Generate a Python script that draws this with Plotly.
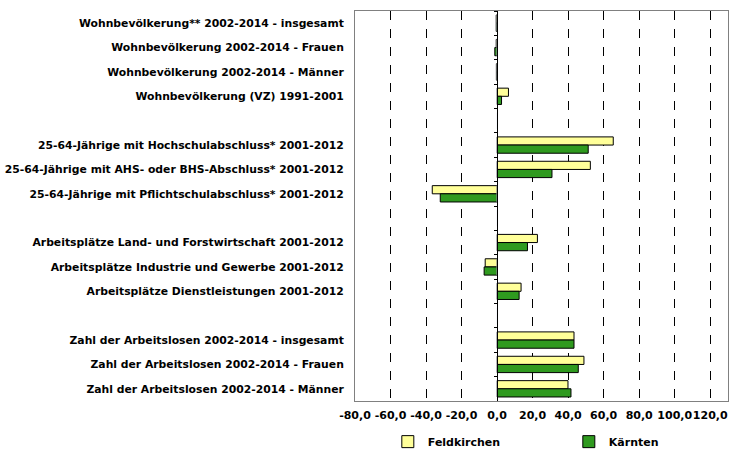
import plotly.graph_objects as go

categories = [
    "Wohnbevölkerung** 2002-2014 - insgesamt",
    "Wohnbevölkerung 2002-2014 - Frauen",
    "Wohnbevölkerung 2002-2014 - Männer",
    "Wohnbevölkerung (VZ) 1991-2001",
    " ",
    "25-64-Jährige mit Hochschulabschluss* 2001-2012",
    "25-64-Jährige mit AHS- oder BHS-Abschluss* 2001-2012",
    "25-64-Jährige mit Pflichtschulabschluss* 2001-2012",
    "  ",
    "Arbeitsplätze Land- und Forstwirtschaft 2001-2012",
    "Arbeitsplätze Industrie und Gewerbe 2001-2012",
    "Arbeitsplätze Dienstleistungen 2001-2012",
    "   ",
    "Zahl der Arbeitslosen 2002-2014 - insgesamt",
    "Zahl der Arbeitslosen 2002-2014 - Frauen",
    "Zahl der Arbeitslosen 2002-2014 - Männer",
]

feldkirchen = [-0.5, -0.5, -0.4, 6.4, None, 65.4, 52.5, -36.5, None,
               22.7, -6.7, 13.5, None, 43.3, 48.9, 39.9]
kaernten = [-0.5, -1.3, -0.4, 2.5, None, 51.3, 30.9, -32.0, None,
            17.1, -7.3, 12.4, None, 43.3, 45.7, 41.6]

x_ticks = [-80, -60, -40, -20, 0, 20, 40, 60, 80, 100, 120]
x_ticklabels = ["-80,0", "-60,0", "-40,0", "-20,0", "0,0", "20,0", "40,0",
                "60,0", "80,0", "100,0", "120,0"]

FONT = "DejaVu Sans"

fig = go.Figure()
fig.add_trace(go.Bar(
    y=categories, x=feldkirchen, name="Feldkirchen", orientation="h",
    marker=dict(color="#FFFF99", line=dict(color="black", width=1)),
))
fig.add_trace(go.Bar(
    y=categories, x=kaernten, name="Kärnten", orientation="h",
    marker=dict(color="#2F9A1F", line=dict(color="black", width=1)),
))
# invisible trace to carry the category axis drawn at x = 0
fig.add_trace(go.Bar(
    y=categories, x=[0] * len(categories), yaxis="y2", showlegend=False,
    hoverinfo="skip", marker=dict(color="rgba(0,0,0,0)"), orientation="h",
))

xmin, xmax = -80, 130

fig.update_layout(
    width=755, height=458,
    margin=dict(l=355, r=27, t=11, b=57, autoexpand=False),
    paper_bgcolor="white", plot_bgcolor="white",
    barmode="group", bargap=0.33, bargroupgap=0,
    font=dict(family=FONT, size=11, color="black", weight="bold"),
    showlegend=True,
    legend=dict(orientation="h", x=0.088, y=-0.067, xanchor="left", yanchor="top",
                entrywidth=136, entrywidthmode="pixels",
                font=dict(family=FONT, size=11, color="black", weight="bold"),
                traceorder="normal", itemwidth=30),
    xaxis=dict(range=[xmin, xmax], tickvals=x_ticks, ticktext=x_ticklabels,
               tickangle=0, automargin=False, ticklabelstandoff=4,
               showgrid=True, gridcolor="black", griddash="dash", gridwidth=1,
               zeroline=False, showline=True, linecolor="#808080", mirror=True,
               ticks="", tickfont=dict(family=FONT, size=11, weight="bold"),
               fixedrange=True),
    yaxis=dict(categoryorder="array", categoryarray=categories,
               range=[len(categories) - 0.5, -0.5], automargin=False,
               showgrid=False, zeroline=False, showline=True, linecolor="#808080",
               mirror=True, ticks="", ticklabelstandoff=8,
               tickfont=dict(family=FONT, size=10.8, weight="bold")),
    yaxis2=dict(overlaying="y", anchor="free",
                position=(0 - xmin) / (xmax - xmin),
                categoryorder="array", categoryarray=categories,
                range=[len(categories) - 0.5, -0.5], automargin=False,
                showgrid=False, zeroline=False, showline=True, linecolor="black",
                linewidth=1, ticks="outside", ticklen=3, tickcolor="black",
                tickson="boundaries", showticklabels=False, side="left"),
)

fig.write_html("out.html")
